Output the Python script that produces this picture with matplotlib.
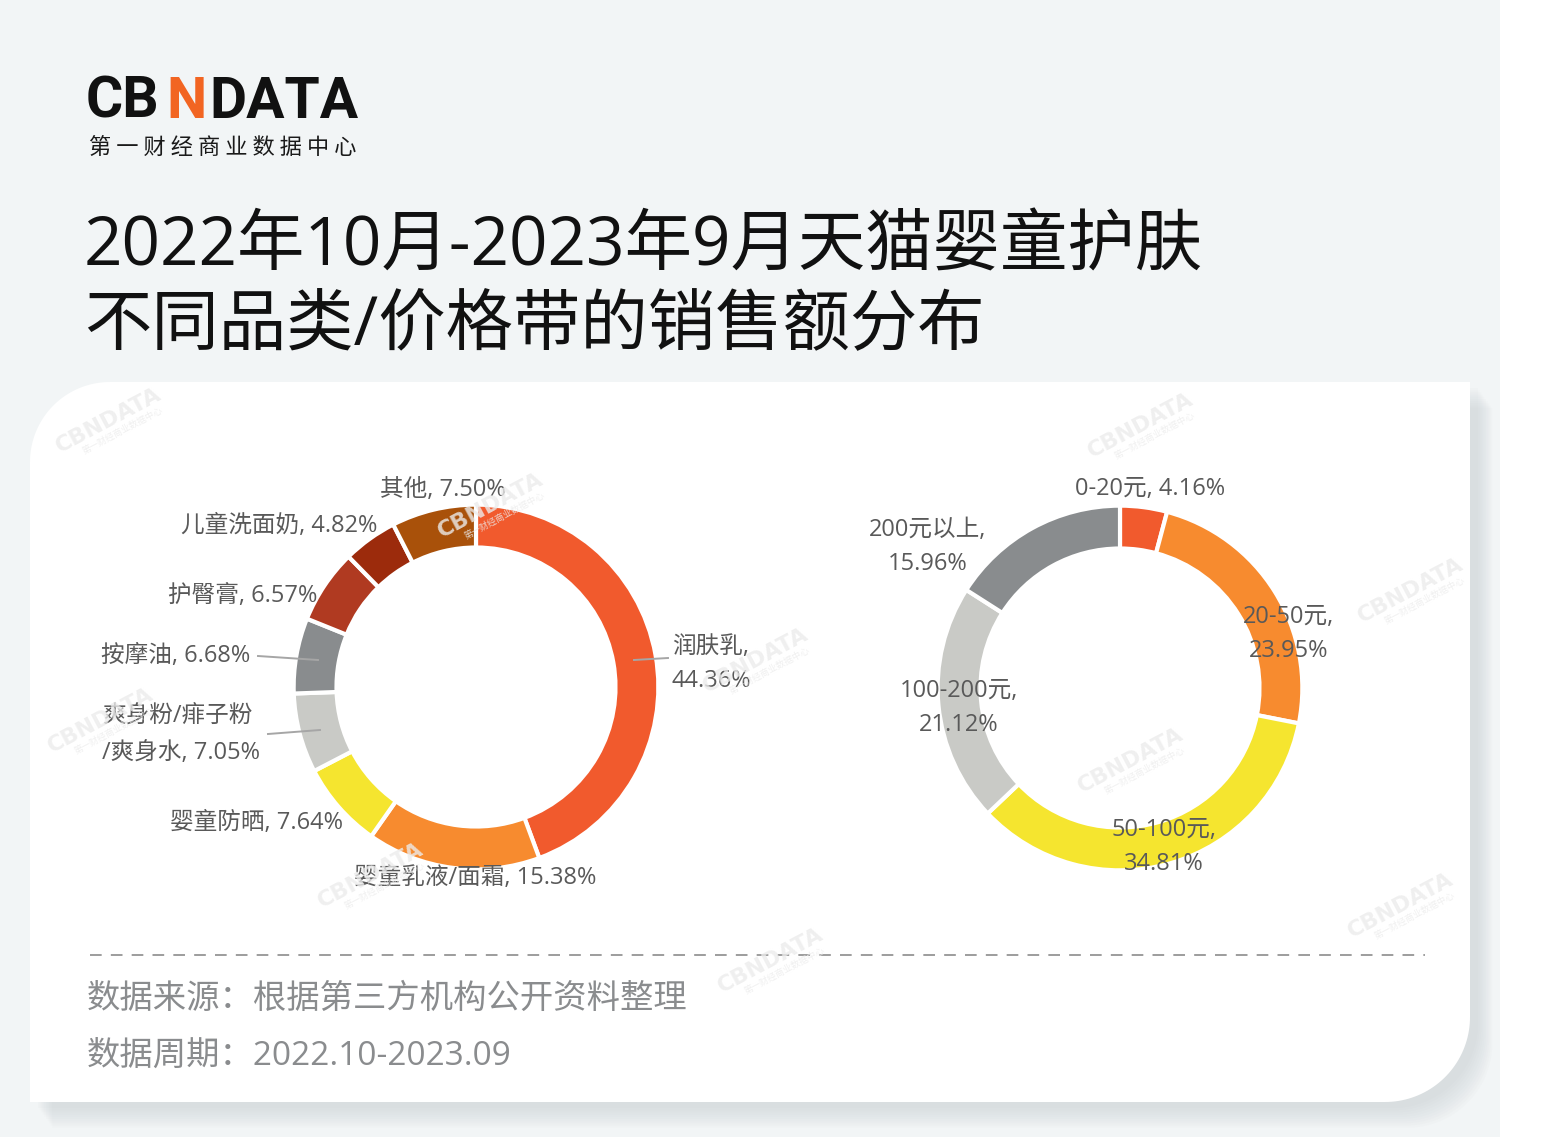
import numpy as np
import matplotlib

matplotlib.use("Agg")
import matplotlib.pyplot as plt
from matplotlib.path import Path
from matplotlib.patches import PathPatch, Rectangle
from matplotlib.transforms import Affine2D

W, H = 1551, 1142

# category split (left donut), clockwise from 12 o'clock
cat_names = ["润肤乳", "婴童乳液/面霜", "婴童防晒", "爽身粉/痱子粉\n/爽身水",
             "按摩油", "护臀膏", "儿童洗面奶", "其他"]
cat_share = [44.36, 15.38, 7.64, 7.05, 6.68, 6.57, 4.82, 7.50]
cat_colors = ["#F15A2D", "#F78B2F", "#F5E52F", "#C9CAC6",
              "#898C8E", "#B03A21", "#9C2B0C", "#A9510A"]

# price band split (right donut)
price_names = ["0-20元", "20-50元", "50-100元", "100-200元", "200元以上"]
price_share = [4.16, 23.95, 34.81, 21.12, 15.96]
price_colors = ["#F15A2D", "#F78B2F", "#F5E52F", "#C9CAC6", "#898C8E"]

title_lines = ["2022年10月-2023年9月天猫婴童护肤", "不同品类/价格带的销售额分布"]
source_text = "数据来源：根据第三方机构公开资料整理"
period_text = "数据周期：2022.10-2023.09"
brand_sub = "第一财经商业数据中心"

# label layout: (x, y, ha, separator) in pixels
cat_label_pos = [(711, 664, "center", ",\n"), (475, 878, "center", ", "),
                 (256, 823, "center", ", "), (102, 734, "left", ", "),
                 (176, 656, "center", ", "), (243, 596, "center", ", "),
                 (279, 526, "center", ", "), (443, 490, "center", ", ")]
cat_leaders = {0: ((634, 660), (668, 658)),
               3: ((268, 734), (320, 730)),
               4: ((258, 656), (318, 660))}
price_label_pos = [(1150, 489, ", "), (1289, 634, ",\n"), (1164, 847, ",\n"),
                   (959, 708, ",\n"), (928, 547, ",\n")]

CJK = ["Open Sans", "Noto Sans CJK SC"]
LABEL = dict(family=CJK, fontsize=17, color="#595959")


def card_path(x0, y0, x1, y1, r_tl, r_br):
    t = np.linspace(np.pi, 1.5 * np.pi, 40)
    pts = list(zip(x0 + r_tl + r_tl * np.cos(t), y0 + r_tl + r_tl * np.sin(t)))
    pts.append((x1, y0))
    t = np.linspace(0, 0.5 * np.pi, 40)
    pts += list(zip(x1 - r_br + r_br * np.cos(t), y1 - r_br + r_br * np.sin(t)))
    pts.append((x0, y1))
    pts.append(pts[0])
    return Path(np.array(pts), closed=True)


fig = plt.figure(figsize=(W / 100, H / 100), dpi=100)

# ---- background layer ----
bg = fig.add_axes([0, 0, 1, 1])
bg.set_xlim(0, W)
bg.set_ylim(H, 0)
bg.axis("off")
bg.add_patch(Rectangle((0, 0), 1500, 1137, fc="#F2F5F6", ec="none", zorder=0))

card = card_path(30, 382, 1470, 1102, 80, 85)
for k in range(10):
    sh = Affine2D().translate(8 + k * 1.6, 6 + k * 2.2).transform_path(card)
    bg.add_patch(PathPatch(sh, fc="#8E979C", ec="none", alpha=0.022, zorder=1))
bg.add_patch(PathPatch(card, fc="white", ec="none", zorder=2))

# logo
LOGO = dict(family=["Liberation Sans Narrow", "Roboto"], weight="bold",
            fontsize=41, va="baseline", ha="left", zorder=5)
bg.text(86, 118, "CB", color="#111111", **LOGO)
bg.text(166, 118, "N", color="#F26522", **LOGO)
bg.text(209, 118, "DATA", color="#111111", **LOGO)
bg.text(89, 147, " ".join(brand_sub), family="Noto Sans CJK SC", fontsize=16,
        weight="medium", color="#1A1A1A", ha="left", va="center", zorder=5)

# title
bg.text(84, 248, title_lines[0], family=CJK, fontsize=48.5, color="#111111",
        ha="left", va="center", zorder=5)
bg.text(84, 327, title_lines[1], family=CJK, fontsize=48.5, color="#111111",
        ha="left", va="center", zorder=5)

# footer
bg.plot([90, 1425], [955, 955], color="#8C8C8C", lw=1.2, dashes=(7, 5.5), zorder=5)
bg.text(87, 998, source_text, family="Noto Sans CJK SC", fontsize=24,
        color="#8A8C8E", ha="left", va="center", zorder=5)
bg.text(87, 1056, period_text, family=CJK, fontsize=24, color="#8A8C8E",
        ha="left", va="center", zorder=5)


# ---- donuts ----
def donut(cx, cy, r, values, colors):
    ax = fig.add_axes([(cx - r) / W, (H - cy - r) / H, 2 * r / W, 2 * r / H])
    ax.pie(values, colors=colors, startangle=90, counterclock=False, radius=1,
           wedgeprops=dict(width=0.235, edgecolor="white", linewidth=3))
    ax.set_xlim(-1.02, 1.02)
    ax.set_ylim(-1.02, 1.02)
    ax.axis("off")
    ax.patch.set_visible(False)
    return ax


donut(476, 687, 186, cat_share, cat_colors)
donut(1120, 688, 186, price_share, price_colors)

# ---- overlay: labels and watermarks ----
ov = fig.add_axes([0, 0, 1, 1])
ov.set_xlim(0, W)
ov.set_ylim(H, 0)
ov.axis("off")
ov.patch.set_visible(False)

for i, (name, v) in enumerate(zip(cat_names, cat_share)):
    x, y, ha, sep = cat_label_pos[i]
    ls = 1.75 if "\n" in name else 1.6
    ov.text(x, y, f"{name}{sep}{v:.2f}%", ha=ha, va="center", multialignment=ha,
            linespacing=ls, zorder=5, **LABEL)
for i, (p0, p1) in cat_leaders.items():
    ov.plot([p0[0], p1[0]], [p0[1], p1[1]], color="#A6A6A6", lw=1.4, zorder=4)

for (name, v), (x, y, sep) in zip(zip(price_names, price_share), price_label_pos):
    ov.text(x, y, f"{name}{sep}{v:.2f}%", ha="center", va="center",
            multialignment="center", linespacing=1.6, zorder=5, **LABEL)

# faint brand watermarks, kept inside the card
wm_pos = [(108, 420), (490, 505), (755, 660), (100, 720), (1140, 425),
          (1130, 760), (370, 875), (770, 960), (1410, 590), (1400, 905)]
ang = np.deg2rad(28)
wm_color = "#ECECEC"
for x, y in wm_pos:
    ov.text(x, y, "CBNDATA", family="DejaVu Sans", weight="bold", fontsize=16,
            color=wm_color, alpha=0.8, rotation=28, ha="center", va="center",
            rotation_mode="anchor", zorder=6)
    ov.text(x + 16 * np.sin(ang) + 8 * np.cos(ang), y + 16 * np.cos(ang) - 8 * np.sin(ang),
            brand_sub, family="Noto Sans CJK SC", fontsize=6.5,
            color=wm_color, alpha=0.8, rotation=28, ha="center", va="center",
            rotation_mode="anchor", zorder=6)

fig.savefig("out.png", dpi=100, facecolor="white")
plt.close(fig)
